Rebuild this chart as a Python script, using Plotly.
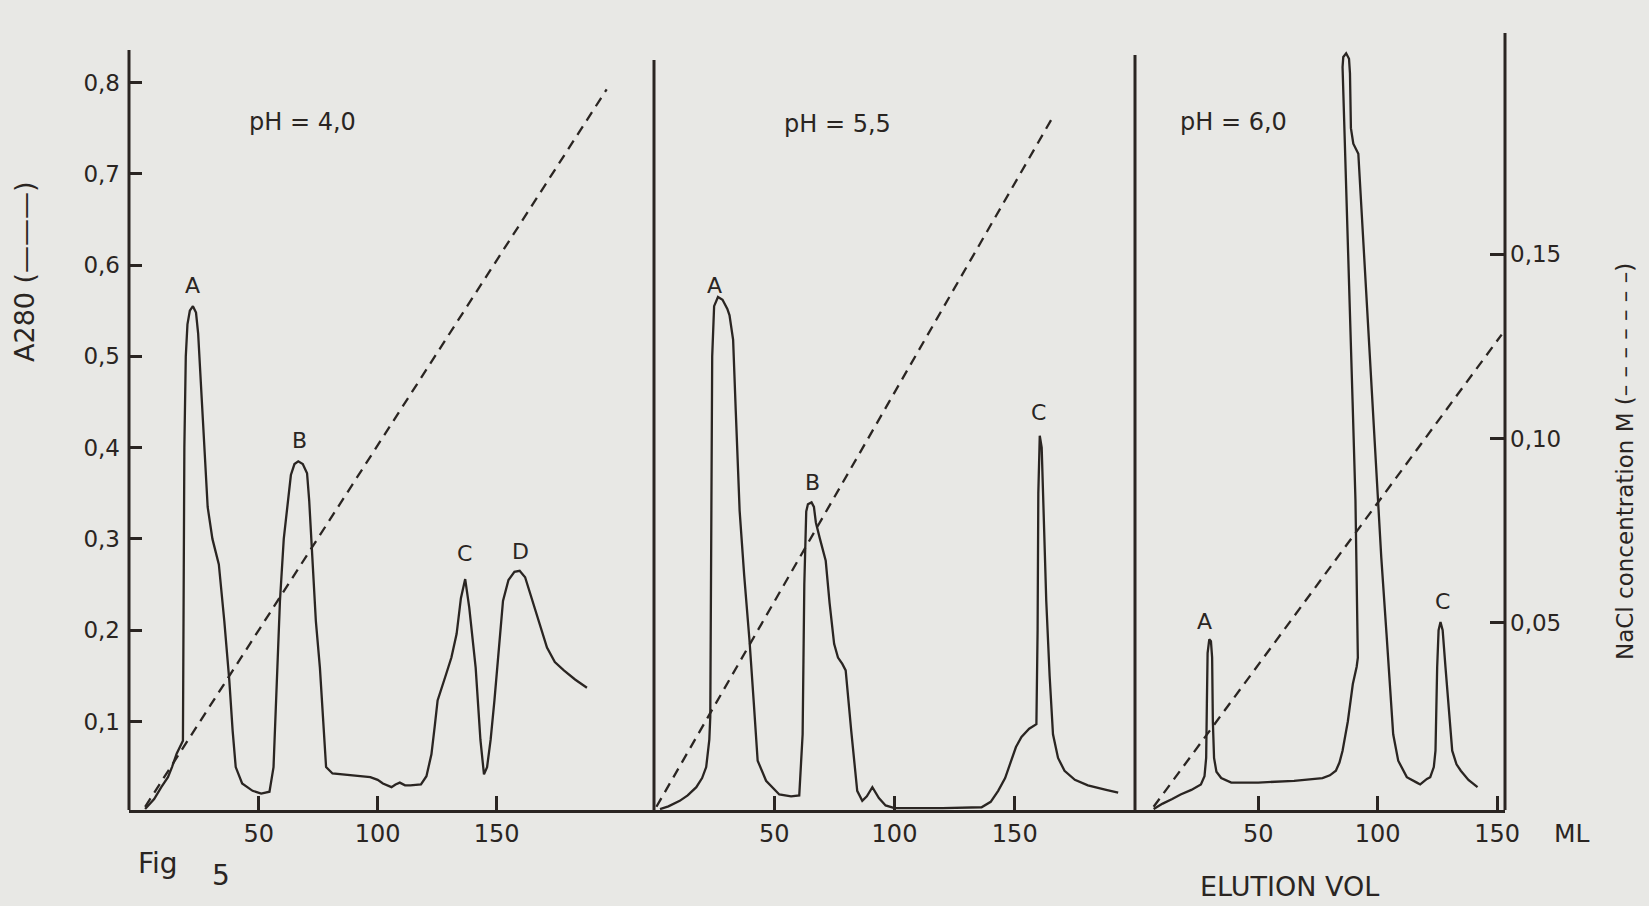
import plotly.graph_objects as go

# ---------------- data ----------------
# Panel 1: pH 4.0
p1_vol = [2.2, 6, 9, 11.8, 13.5, 15.5, 18.1, 18.3, 18.7, 19.3, 20.0, 21.0, 22.3, 23.6, 24.5,
          26.5, 28.5, 30.5, 32.0, 33.2, 35.5, 37.6, 39.0, 40.3, 43.0, 47.4, 51.0, 54.5,
          56.2, 57.5, 58.9, 60.5, 62.4, 63.5, 65.0, 66.6, 68.5, 70.3, 71.2, 72.5, 74.0,
          75.7, 77.0, 78.3, 81.0, 88.0, 96.9, 100.0, 102.2, 105.8, 107.5, 109.3, 111.5,
          113.7, 118.2, 120.5, 122.6, 124.0, 125.2, 128.8, 131.0, 133.2, 135.0, 136.8,
          138.5, 141.2, 143.2, 144.7, 146.0, 147.5, 149.1, 152.7, 155.0, 157.5, 159.7,
          162.0, 165.9, 171.2, 174.5, 178.3, 183.0, 188.0]
p1_abs = [0.004, 0.015, 0.028, 0.039, 0.050, 0.065, 0.079, 0.200, 0.400, 0.500, 0.535, 0.550, 0.555, 0.548, 0.525,
          0.430, 0.335, 0.300, 0.284, 0.272, 0.210, 0.145, 0.090, 0.050, 0.032, 0.024, 0.021, 0.023,
          0.050, 0.140, 0.232, 0.300, 0.342, 0.370, 0.382, 0.385, 0.382, 0.372, 0.342, 0.280, 0.210,
          0.159, 0.100, 0.050, 0.043, 0.041, 0.039, 0.036, 0.032, 0.028, 0.031, 0.033, 0.030,
          0.030, 0.031, 0.040, 0.064, 0.095, 0.123, 0.152, 0.170, 0.196, 0.235, 0.256,
          0.225, 0.159, 0.080, 0.042, 0.050, 0.080, 0.123, 0.232, 0.255, 0.264, 0.265,
          0.258, 0.225, 0.181, 0.165, 0.156, 0.146, 0.137]

# Panel 2: pH 5.5
p2_vol = [2.5, 6, 10.7, 14, 17.6, 20, 21.7, 23.0, 23.4, 23.8, 24.2, 25.0, 26.6, 28.5, 30.5,
          31.4, 32.9, 34.0, 35.6, 37.5, 39.7, 41.5, 43.1, 46.6, 52.1, 57.0, 60.4, 61.8,
          62.5, 63.3, 64.0, 65.5, 66.5, 67.3, 68.0, 69.0, 71.4, 73.0, 74.9, 76.5, 78.3,
          79.7, 82.0, 84.5, 86.6, 88.5, 90.8, 93.5, 96.3, 100, 120, 136.2, 140, 143.1,
          146, 148.6, 150.5, 152.8, 156, 159, 159.5, 159.8, 160.4, 161.2, 162.2, 163.1,
          164.5, 165.9, 168, 170.7, 175, 180.4, 188, 193]
p2_abs = [0.004, 0.007, 0.013, 0.019, 0.028, 0.038, 0.050, 0.080, 0.105, 0.300, 0.500, 0.555, 0.565, 0.562, 0.552,
          0.545, 0.518, 0.440, 0.331, 0.260, 0.189, 0.120, 0.057, 0.035, 0.020, 0.018, 0.019, 0.086,
          0.250, 0.330, 0.338, 0.340, 0.335, 0.318, 0.310, 0.300, 0.276, 0.230, 0.185, 0.170, 0.163,
          0.156, 0.090, 0.024, 0.013, 0.018, 0.028, 0.016, 0.008, 0.005, 0.005, 0.006, 0.012, 0.024,
          0.038, 0.057, 0.072, 0.083, 0.092, 0.097, 0.200, 0.350, 0.413, 0.400, 0.320, 0.232,
          0.150, 0.086, 0.060, 0.046, 0.036, 0.030, 0.025, 0.022]

# Panel 3: pH 6.0
p3_vol = [6.2, 10, 14, 17.5, 22, 26, 27.5, 28.2, 28.5, 28.8, 29.5, 30.2, 30.7, 31.0, 31.5,
          32.5, 34.5, 38.7, 50, 65, 76.9, 80, 82.5, 84, 85.3, 87.5, 89.6, 91.2, 91.7, 91.3,
          90.7, 89.5, 87.8, 86.6, 85.3, 85.6, 86.8, 88.0, 88.4, 88.8, 89.8, 91.9, 95.4,
          99.6, 101.5, 103.7, 105.2, 106.5, 108.6, 112.2, 116.4, 117.8, 120.6, 122.0,
          123.5, 124.2, 124.9, 125.5, 126.3, 127.2, 128.4, 129.8, 131.2, 133.0, 134.8,
          138.0, 141.8]
p3_abs = [0.004, 0.010, 0.015, 0.020, 0.025, 0.031, 0.040, 0.060, 0.120, 0.175, 0.190, 0.188, 0.170, 0.100, 0.060,
          0.045, 0.038, 0.033, 0.033, 0.035, 0.038, 0.041, 0.046, 0.055, 0.068, 0.100, 0.141, 0.160, 0.170, 0.250,
          0.342, 0.450, 0.600, 0.700, 0.817, 0.828, 0.832, 0.826, 0.810, 0.750, 0.733, 0.722, 0.561,
          0.360, 0.280, 0.196, 0.130, 0.086, 0.057, 0.039, 0.033, 0.031, 0.037, 0.039,
          0.050, 0.068, 0.159, 0.200, 0.209, 0.200, 0.159, 0.110, 0.068, 0.053, 0.046,
          0.036, 0.028]

# NaCl gradients (dashed)
g1_vol, g1_nacl = [2.2, 196.3], [0.0, 0.1948]
g2_vol, g2_nacl = [1.0, 165.4], [0.0, 0.1868]
g3_vol, g3_nacl = [6.2, 151.9], [0.0, 0.1282]

ph_labels = ["pH = 4,0", "pH = 5,5", "pH = 6,0"]
ph_pos = [(68.2, 0.757), (76.5, 0.755), (39.5, 0.757)]

peak_labels = [
    ("x", "A", 22.3, 0.578), ("x", "B", 67.3, 0.408), ("x", "C", 136.7, 0.284), ("x", "D", 160.0, 0.286),
    ("x2", "A", 25.2, 0.578), ("x2", "B", 65.9, 0.362), ("x2", "C", 159.7, 0.439),
    ("x3", "A", 27.4, 0.209), ("x3", "B", 87.1, 0.866), ("x3", "C", 127.0, 0.231),
]

x_ticks = [50, 100, 150]
a280_ticks = [0.1, 0.2, 0.3, 0.4, 0.5, 0.6, 0.7, 0.8]
nacl_ticks = [0.05, 0.10, 0.15]

# ---------------- style ----------------
INK = "#2a2522"
BG = "#e8e8e5"
FONT = "DejaVu Sans"
W, H = 1649, 906
ML, MR, MT, MB = 129, 144, 25, 96

d1 = (654 - ML) / (W - ML - MR)
d2 = (1135 - ML) / (W - ML - MR)

fig = go.Figure()

curve = dict(mode="lines", line=dict(color=INK, width=2.3), hoverinfo="skip")
dash = dict(mode="lines", line=dict(color=INK, width=2.3, dash="10px,7px"), hoverinfo="skip")

fig.add_trace(go.Scatter(x=p1_vol, y=p1_abs, xaxis="x", yaxis="y", **curve))
fig.add_trace(go.Scatter(x=p2_vol, y=p2_abs, xaxis="x2", yaxis="y", **curve))
fig.add_trace(go.Scatter(x=p3_vol, y=p3_abs, xaxis="x3", yaxis="y", **curve))
fig.add_trace(go.Scatter(x=g1_vol, y=g1_nacl, xaxis="x", yaxis="y2", **dash))
fig.add_trace(go.Scatter(x=g2_vol, y=g2_nacl, xaxis="x2", yaxis="y2", **dash))
fig.add_trace(go.Scatter(x=g3_vol, y=g3_nacl, xaxis="x3", yaxis="y2", **dash))

xcommon = dict(
    tickvals=x_ticks, ticks="inside", ticklen=14, tickwidth=2.5, tickcolor=INK,
    showline=True, linewidth=3, linecolor=INK, showgrid=False, zeroline=False,
    tickfont=dict(family=FONT, size=24, color=INK), anchor="y",
)
y_lo = 0.003
y_hi = y_lo + (H - MT - MB) / 912.8

fig.update_layout(
    width=W, height=H,
    margin=dict(l=ML, r=MR, t=MT, b=MB, pad=0),
    paper_bgcolor=BG, plot_bgcolor=BG,
    showlegend=False, hovermode=False,
    separators=",.",
    font=dict(family=FONT, color=INK),
    xaxis=dict(domain=[0, d1], range=[-4.58, 216.2], **xcommon),
    xaxis2=dict(domain=[d1, d2], range=[0, 200], **xcommon),
    xaxis3=dict(domain=[d2, 1], range=[-1.59, 153.3], **xcommon),
    yaxis=dict(
        range=[y_lo, y_hi], anchor="x", tickvals=a280_ticks, tickformat=".1f",
        ticks="inside", ticklen=13, tickwidth=2.5, tickcolor=INK,
        showline=False, showgrid=False, zeroline=False,
        tickfont=dict(family=FONT, size=23, color=INK), ticklabelstandoff=8,
    ),
    yaxis2=dict(
        range=[-0.00087, 0.21227], overlaying="y", side="right", anchor="x3",
        tickvals=nacl_ticks, tickformat=".2f",
        ticks="inside", ticklen=15, tickwidth=2.5, tickcolor=INK,
        showline=False, showgrid=False, zeroline=False,
        tickfont=dict(family=FONT, size=23, color=INK), ticklabelstandoff=4,
    ),
)

# frame lines of varying heights (left axis, panel separators, right axis)
def yv(pix):
    return (810 - pix) / 912.8 + y_lo

for xp_, top in [(0, 50), (d1, 60), (d2, 55), (1, 33)]:
    fig.add_shape(type="line", xref="paper", yref="y", x0=xp_, x1=xp_,
                  y0=y_lo, y1=yv(top), line=dict(color=INK, width=3))

# pH labels
for ax, lab, (px, py) in zip(["x", "x2", "x3"], ph_labels, ph_pos):
    fig.add_annotation(x=px, y=py, xref=ax, yref="y", text=lab, showarrow=False,
                       font=dict(family=FONT, size=24, color=INK))

# peak letters
for ax, lab, px, py in peak_labels:
    fig.add_annotation(x=px, y=py, xref=ax, yref="y", text=lab, showarrow=False,
                       font=dict(family=FONT, size=22, color=INK))

def xp(pix):
    return (pix - ML) / (W - ML - MR)

def ypp(pix):
    return (H - MB - pix) / (H - MT - MB)

texts = [
    ("Fig", 158, 863, 28, 0),
    ("5", 221, 875, 28, 0),
    ("ELUTION VOL", 1289, 886, 27, 0),
    ("ML", 1572, 833, 25, 0),
    ("A280 (———)", 24, 272, 27, -90),
    ("NaCl concentration M (– – – – – – –)", 1625, 462, 23, -90),
]
for t, px, py, sz, ang in texts:
    fig.add_annotation(x=xp(px), y=ypp(py), xref="paper", yref="paper", text=t,
                       showarrow=False, textangle=ang, xanchor="center", yanchor="middle",
                       font=dict(family=FONT, size=sz, color=INK))

fig.write_html("out.html")
